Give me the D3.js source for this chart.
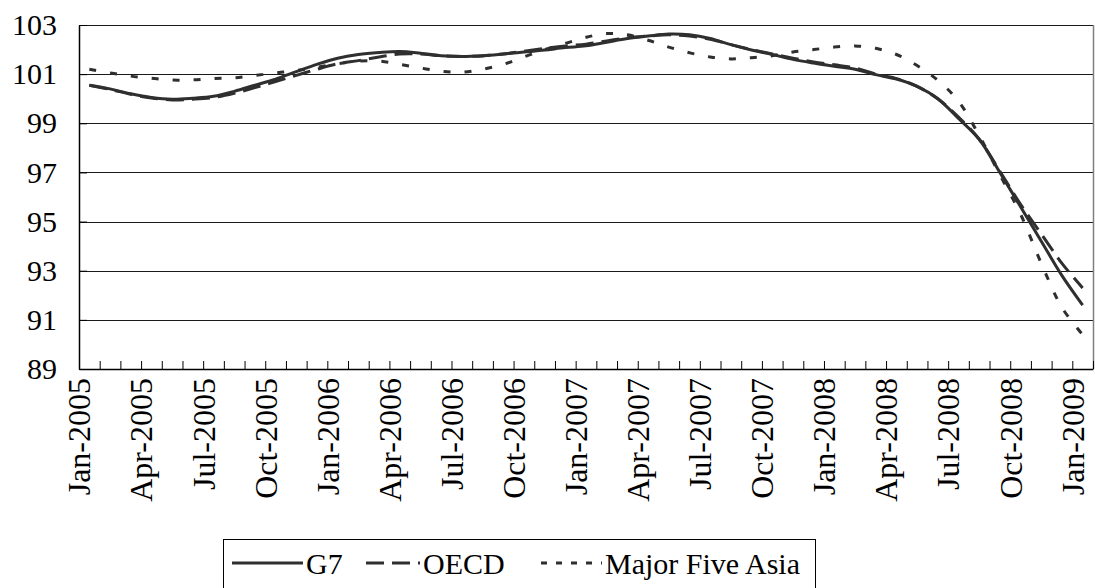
<!DOCTYPE html>
<html>
<head>
<meta charset="utf-8">
<script src="https://cdn.jsdelivr.net/npm/d3@7"></script>
<style>
  html, body { margin: 0; padding: 0; background: #fff; }
  svg { display: block; }
  svg text { font-family: "Liberation Serif", "Times New Roman", Times, "DejaVu Serif", serif !important; fill: #000; }
</style>
</head>
<body>
<svg id="chart" width="1095" height="588"></svg>
<script>
// ---- data ----
const categories = [
  "Jan-2005","Feb-2005","Mar-2005","Apr-2005","May-2005","Jun-2005","Jul-2005","Aug-2005","Sep-2005","Oct-2005","Nov-2005","Dec-2005",
  "Jan-2006","Feb-2006","Mar-2006","Apr-2006","May-2006","Jun-2006","Jul-2006","Aug-2006","Sep-2006","Oct-2006","Nov-2006","Dec-2006",
  "Jan-2007","Feb-2007","Mar-2007","Apr-2007","May-2007","Jun-2007","Jul-2007","Aug-2007","Sep-2007","Oct-2007","Nov-2007","Dec-2007",
  "Jan-2008","Feb-2008","Mar-2008","Apr-2008","May-2008","Jun-2008","Jul-2008","Aug-2008","Sep-2008","Oct-2008","Nov-2008","Dec-2008",
  "Jan-2009"
];
const g7 = [
  100.55,100.4,100.2,100.05,99.98,100.02,100.1,100.3,100.55,100.8,101.1,101.4,
  101.65,101.8,101.88,101.92,101.85,101.75,101.72,101.75,101.82,101.9,101.98,102.08,
  102.15,102.3,102.45,102.55,102.63,102.6,102.45,102.2,101.98,101.8,101.6,101.45,
  101.32,101.2,100.98,100.8,100.5,100.0,99.2,98.35,97.0,95.6,94.2,92.8,
  91.6
];
const oecd = [
  100.55,100.38,100.18,100.03,99.95,99.98,100.05,100.22,100.45,100.7,100.95,101.2,
  101.42,101.55,101.7,101.82,101.82,101.75,101.72,101.74,101.82,101.93,102.05,102.15,
  102.22,102.35,102.48,102.55,102.6,102.55,102.42,102.2,102.0,101.82,101.65,101.5,
  101.38,101.25,101.0,100.82,100.5,100.0,99.25,98.35,97.05,95.7,94.5,93.3,
  92.3
];
const asia5 = [
  101.2,101.05,100.92,100.83,100.76,100.77,100.82,100.85,100.95,101.05,101.15,101.28,
  101.42,101.53,101.53,101.4,101.25,101.12,101.08,101.2,101.4,101.7,102.0,102.25,
  102.5,102.65,102.6,102.38,102.1,101.87,101.7,101.62,101.67,101.75,101.9,102.0,
  102.1,102.15,102.05,101.8,101.35,100.75,99.9,98.5,96.9,95.3,93.3,91.5,
  90.4
];
const yTicks = [89, 91, 93, 95, 97, 99, 101, 103];
const labelEvery = 3;
const seriesNames = ["G7", "OECD", "Major Five Asia"];

// ---- layout ----
const svg = d3.select("#chart");
const L = 79, R = 1093, T = 25, B = 369;
const FONT = 30;
const XFONT = 32;
const SERIF = '"Liberation Serif", "Times New Roman", Times, "DejaVu Serif", serif';
const ink = "#2f2f2f";

const xIdx = d3.scaleLinear().domain([0, categories.length]).range([L, R]);
const xC = i => xIdx(i + 0.5);
const y = d3.scaleLinear().domain([89, 103]).range([B, T]);

// gridlines
svg.append("g").selectAll("line").data(yTicks.filter(v => v !== 89)).join("line")
  .attr("x1", L).attr("x2", R)
  .attr("y1", d => Math.round(y(d)) + 0.5).attr("y2", d => Math.round(y(d)) + 0.5)
  .attr("stroke", "#1a1a1a").attr("stroke-width", 1);

// right border
svg.append("line").attr("x1", R + 0.5).attr("x2", R + 0.5).attr("y1", y(103)).attr("y2", B)
  .attr("stroke", "#808080").attr("stroke-width", 1.5);

// y axis
const yAxis = d3.axisLeft(y).tickValues(yTicks).tickSizeInner(-8).tickSizeOuter(0).tickPadding(22)
  .tickFormat(d3.format("d"));
const gy = svg.append("g").attr("transform", `translate(${L},0)`).call(yAxis)
  .attr("font-family", SERIF);
gy.select(".domain").attr("stroke", "#000").attr("stroke-width", 1.5);
gy.selectAll(".tick line").attr("stroke", "#000");
gy.selectAll(".tick text").attr("font-size", FONT).style("font-family", SERIF).attr("fill", "#000");

// x axis (ticks at month boundaries)
const xAxis = d3.axisBottom(xIdx).tickValues(d3.range(0, categories.length + 1)).tickSizeInner(-8).tickSizeOuter(0).tickFormat("");
const gx = svg.append("g").attr("transform", `translate(0,${B})`).call(xAxis);
gx.select(".domain").attr("stroke", "#000").attr("stroke-width", 1.5);
gx.selectAll(".tick line").attr("stroke", "#000");

// x labels
svg.append("g").selectAll("text")
  .data(categories.map((c, i) => ({c, i})).filter(d => d.i % labelEvery === 0))
  .join("text")
  .attr("transform", d => `translate(${xC(d.i) + 1},${B + 9}) rotate(-90)`)
  .attr("text-anchor", "end")
  .attr("font-size", XFONT)
  .style("font-family", SERIF)
  .text(d => d.c);

// lines
const line = d3.line().x((d, i) => xC(i)).y(d => y(d)).curve(d3.curveCatmullRom.alpha(0.5));
const series = [
  {name: seriesNames[0], values: g7, dash: null, width: 3},
  {name: seriesNames[1], values: oecd, dash: "18,8", width: 3},
  {name: seriesNames[2], values: asia5, dash: "7,14", width: 3}
];
svg.append("g").selectAll("path").data(series).join("path")
  .attr("d", d => line(d.values))
  .attr("fill", "none")
  .attr("stroke", ink)
  .attr("stroke-width", d => d.width)
  .attr("stroke-dasharray", d => d.dash);

// legend
const lg = svg.append("g");
lg.append("rect").attr("x", 223.5).attr("y", 539.5).attr("width", 592).attr("height", 70)
  .attr("fill", "#fff").attr("stroke", "#000").attr("stroke-width", 1);
const legendItems = [
  {name: seriesNames[0], x1: 232, x2: 303, tx: 306, dash: null},
  {name: seriesNames[1], x1: 366, x2: 420, tx: 423, dash: "18,8"},
  {name: seriesNames[2], x1: 541, x2: 602, tx: 605, dash: "6,9"}
];
const ly = 563;
legendItems.forEach(it => {
  lg.append("line").attr("x1", it.x1).attr("x2", it.x2).attr("y1", ly).attr("y2", ly)
    .attr("stroke", ink).attr("stroke-width", 3).attr("stroke-dasharray", it.dash);
  lg.append("text").attr("x", it.tx).attr("y", ly).attr("dy", "0.35em")
    .attr("font-size", FONT).style("font-family", SERIF).text(it.name);
});
</script>
</body>
</html>
